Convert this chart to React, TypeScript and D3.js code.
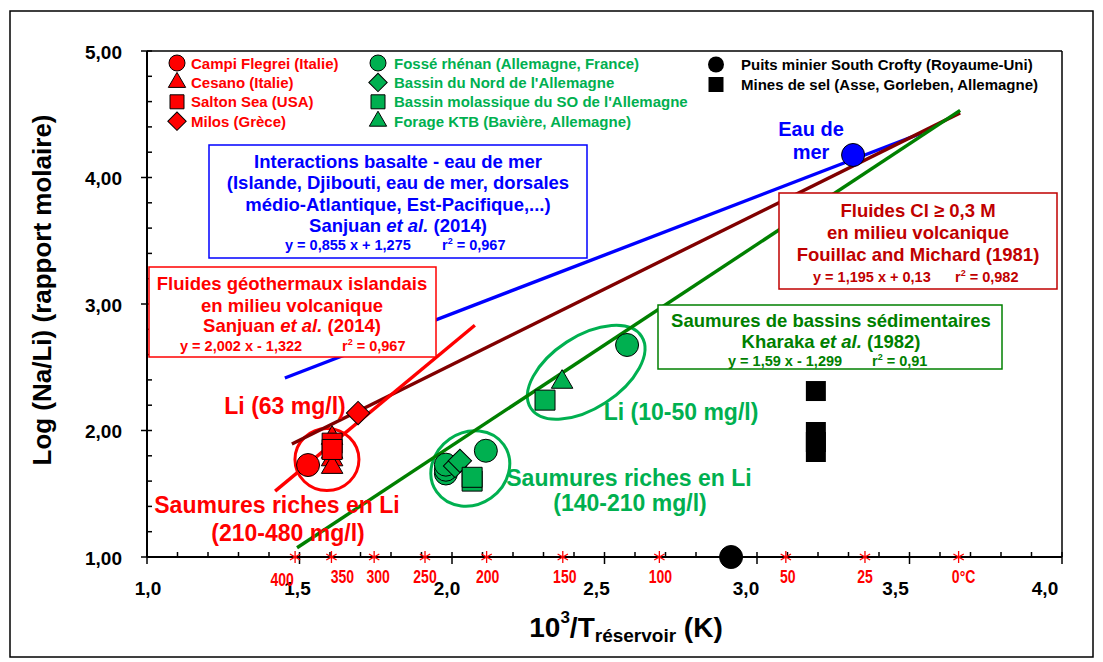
import React from "react";
import * as d3 from "d3";

// ---------- data ----------
const campiFlegrei = [[1.528, 1.727]];
const cesano = [[1.607, 1.94], [1.607, 1.83], [1.607, 1.77], [1.607, 1.71]];
const saltonSea = [[1.607, 1.90], [1.607, 1.85]];
const milos = [[1.692, 2.138]];
const fosseRhenan = [[1.98, 1.66], [1.98, 1.69], [1.98, 1.73], [2.111, 1.84], [2.574, 2.676]];
const bassinNord = [[2.01, 1.72], [2.026, 1.76]];
const bassinMolassique = [[2.066, 1.60], [2.066, 1.63], [2.305, 2.24]];
const forageKTB = [[2.361, 2.383]];
const southCrofty = [[2.915, 1.0]];
const minesSel = [[3.193, 2.312], [3.193, 1.988], [3.193, 1.909], [3.193, 1.83]];
const eauDeMer = [[3.315, 4.178]];

// regression lines [x1, y1, x2, y2]
const lineBasalte = [1.452, 2.415, 3.541, 4.352];
const lineFouillac = [1.475, 1.893, 3.666, 4.511];
const lineKharaka = [1.492, 1.073, 3.666, 4.53];
const lineIslandais = [1.42, 1.521, 2.075, 2.832];

const xTicks = [1.0, 1.5, 2.0, 2.5, 3.0, 3.5, 4.0];
const xTickLabels = ["1,0", "1,5", "2,0", "2,5", "3,0", "3,5", "4,0"];
const yTicks = [1, 2, 3, 4, 5];
const yTickLabels = ["1,00", "2,00", "3,00", "4,00", "5,00"];
const tempsC = [400, 350, 300, 250, 200, 150, 100, 50, 25, 0];
const tempLabels = ["400", "350", "300", "250", "200", "150", "100", "50", "25", "0°C"];
const tempLabelDx = [-13, 11, 4, 0, 1, 2, 1, 2, 0, 5];

const legendRed = ["Campi Flegrei (Italie)", "Cesano (Italie)", "Salton Sea (USA)", "Milos (Grèce)"];
const legendGreen = ["Fossé rhénan (Allemagne, France)", "Bassin du Nord de l'Allemagne", "Bassin molassique du SO de l'Allemagne", "Forage KTB (Bavière, Allemagne)"];
const legendBlack = ["Puits minier South Crofty (Royaume-Uni)", "Mines de sel (Asse, Gorleben, Allemagne)"];

const RED = "#ff0000";
const GREEN = "#00b050";
const DGREEN = "#008000";
const BROWN = "#800000";
const DRED = "#c00000";
const BLUE = "#0000ff";
const FONT = "'Liberation Sans', Arial, sans-serif";

const x = d3.scaleLinear().domain([1, 4]).range([147, 1062]);
const y = d3.scaleLinear().domain([1, 5]).range([557, 51]);
const xLabel = d3.scaleLinear().domain([1, 4]).range([148, 1045]);

const sym = (type: any, size: number) => d3.symbol().type(type).size(size)() as string;
const circlePath = sym(d3.symbolCircle, Math.PI * 11.5 * 11.5);
const trianglePath = sym(d3.symbolTriangle, 200);
const squarePath = sym(d3.symbolSquare, 20 * 20);
const diamondPath = sym(d3.symbolSquare, 16.5 * 16.5);
const legCircle = sym(d3.symbolCircle, Math.PI * 8 * 8);
const legTriangle = sym(d3.symbolTriangle, 130);
const legSquare = sym(d3.symbolSquare, 14 * 14);
const legDiamond = sym(d3.symbolSquare, 13 * 13);

function Markers({ data, path, fill, rotate = 0, stroke = "#000" }: any) {
  return (
    <g>
      {data.map((d: number[], i: number) => (
        <path key={i} d={path} fill={fill} stroke={stroke} strokeWidth={1}
          transform={`translate(${x(d[0])},${y(d[1])}) rotate(${rotate})`} />
      ))}
    </g>
  );
}

function Line({ l, color }: any) {
  return <line x1={x(l[0])} y1={y(l[1])} x2={x(l[2])} y2={y(l[3])} stroke={color} strokeWidth={3.4} />;
}

function BoxText({ lines, cx, color, size }: any) {
  return (
    <g fill={color} fontFamily={FONT} fontWeight="bold" textAnchor="middle" dominantBaseline="central">
      {lines.map((l: any, i: number) => (
        <text key={i} x={cx} y={l.y} fontSize={size}>
          {l.parts ? l.parts.map((p: any, j: number) => (
            <tspan key={j} fontStyle={p.i ? "italic" : "normal"}>{p.t}</tspan>
          )) : l.t}
        </text>
      ))}
    </g>
  );
}

function Eq({ eq, r2, x1, x2, yy, color }: any) {
  return (
    <g fill={color} fontFamily={FONT} fontWeight="bold" fontSize={14.5} dominantBaseline="central">
      <text x={x1} y={yy}>{eq}</text>
      <text x={x2} y={yy}>r<tspan dy={-4} fontSize={9}>2</tspan><tspan dy={4}> = {r2}</tspan></text>
    </g>
  );
}

export default function App() {
  const minorX = d3.range(10, 41).map((v) => v / 10);
  const minorY = d3.range(5, 26).map((v) => v / 5);
  return (
    <svg width={1103} height={662} style={{ position: "absolute", left: 0, top: 0, background: "#fff" }}>
      <rect x={10} y={11} width={1083} height={646} fill="#fff" stroke="#000" strokeWidth={1.5} />

      {/* plot frame */}
      <line x1={147} y1={51} x2={1062} y2={51} stroke="#000" strokeWidth={1.5} />
      <line x1={1062} y1={51} x2={1062} y2={557} stroke="#000" strokeWidth={1.5} />

      {/* y axis */}
      <line x1={x(1)} y1={y(1)} x2={x(1)} y2={y(5)} stroke="#000" strokeWidth={2} />
      {minorY.map((v, i) => (
        <line key={i} x1={x(1)} x2={x(1) + 5} y1={y(v)} y2={y(v)} stroke="#000" strokeWidth={1.5} />
      ))}
      {yTicks.map((v, i) => (
        <g key={i}>
          <line x1={x(1) - 6} x2={x(1)} y1={y(v)} y2={y(v)} stroke="#000" strokeWidth={1.5} />
          <text x={122} y={y(v) + 1} textAnchor="end" dominantBaseline="central" fontFamily={FONT}
            fontWeight="bold" fontSize={19}>{yTickLabels[i]}</text>
        </g>
      ))}

      {/* x axis */}
      <line x1={x(1)} y1={y(1)} x2={x(4)} y2={y(1)} stroke="#000" strokeWidth={2} />
      {minorX.map((v, i) => (
        <line key={i} x1={x(v)} x2={x(v)} y1={y(1) - 5} y2={y(1)} stroke="#000" strokeWidth={1.5} />
      ))}
      {xTicks.map((v, i) => (
        <g key={i}>
          <line x1={x(v)} x2={x(v)} y1={y(1)} y2={y(1) + 7} stroke="#000" strokeWidth={1.5} />
          <text x={xLabel(v)} y={588} textAnchor="middle" dominantBaseline="central" fontFamily={FONT}
            fontWeight="bold" fontSize={19}>{xTickLabels[i]}</text>
        </g>
      ))}

      {/* temperature asterisks */}
      {tempsC.map((t, i) => {
        const xv = 1000 / (t + 273.15);
        const lx = x(xv) + tempLabelDx[i];
        const ly = t === 400 ? 579 : 576;
        return (
          <g key={i}>
            <path d={sym(d3.symbolAsterisk, 100)} transform={`translate(${x(xv)},${y(1)})`}
              stroke={RED} strokeWidth={1.3} fill="none" />
            <text transform={`translate(${lx},${ly}) scale(0.78,1)`} textAnchor="middle" dominantBaseline="central"
              fontFamily={FONT} fontWeight="bold" fontSize={18} fill={RED}>{tempLabels[i]}</text>
          </g>
        );
      })}

      {/* axis titles */}
      <text x={626} y={627} textAnchor="middle" dominantBaseline="central" fontFamily={FONT} fontWeight="bold" fontSize={28}>
        10<tspan dy={-10} fontSize={17}>3</tspan><tspan dy={10}>/T</tspan><tspan dy={8} fontSize={19}>réservoir</tspan><tspan dy={-8}> (K)</tspan>
      </text>
      <text transform="translate(42,290) rotate(-90)" textAnchor="middle" dominantBaseline="central" fontFamily={FONT}
        fontWeight="bold" fontSize={26}>Log (Na/Li) (rapport molaire)</text>

      {/* ellipses */}
      <ellipse cx={x(1.59)} cy={y(1.77)} rx={32} ry={31} fill="none" stroke={RED} strokeWidth={3} />
      <ellipse cx={x(2.06)} cy={y(1.70)} rx={41} ry={36} fill="none" stroke={GREEN} strokeWidth={3}
        transform={`rotate(-35 ${x(2.06)} ${y(1.70)})`} />
      <ellipse cx={x(2.44)} cy={y(2.46)} rx={66} ry={36} fill="none" stroke={GREEN} strokeWidth={3}
        transform={`rotate(-33 ${x(2.44)} ${y(2.46)})`} />

      {/* regression lines */}
      <Line l={lineBasalte} color={BLUE} />
      <Line l={lineFouillac} color={BROWN} />
      <Line l={lineKharaka} color={DGREEN} />
      <Line l={lineIslandais} color={RED} />

      {/* markers */}
      <Markers data={cesano} path={trianglePath} fill={RED} />
      <Markers data={saltonSea} path={squarePath} fill={RED} />
      <Markers data={campiFlegrei} path={circlePath} fill={RED} />
      <Markers data={milos} path={diamondPath} fill={RED} rotate={45} />
      <Markers data={fosseRhenan} path={circlePath} fill={GREEN} />
      <Markers data={bassinNord} path={diamondPath} fill={GREEN} rotate={45} />
      <Markers data={bassinMolassique} path={squarePath} fill={GREEN} />
      <Markers data={forageKTB} path={trianglePath} fill={GREEN} />
      <Markers data={minesSel} path={squarePath} fill="#000" stroke="none" />
      <Markers data={southCrofty} path={circlePath} fill="#000" />
      <Markers data={eauDeMer} path={circlePath} fill={BLUE} />

      {/* annotation labels */}
      <g fontFamily={FONT} fontWeight="bold" textAnchor="middle" dominantBaseline="central">
        <text x={811} y={129} fill={BLUE} fontSize={20}>Eau de</text>
        <text x={811} y={152} fill={BLUE} fontSize={20}>mer</text>
        <text x={285} y={406} fill={RED} fontSize={23}>Li (63 mg/l)</text>
        <text x={277} y={505} fill={RED} fontSize={23}>Saumures riches en Li</text>
        <text x={288} y={533} fill={RED} fontSize={23}>(210-480 mg/l)</text>
        <text x={681} y={412} fill={GREEN} fontSize={23}>Li (10-50 mg/l)</text>
        <text x={629} y={478} fill={GREEN} fontSize={23}>Saumures riches en Li</text>
        <text x={630} y={503} fill={GREEN} fontSize={23}>(140-210 mg/l)</text>
      </g>

      {/* blue box */}
      <rect x={209} y={145} width={378} height={113} fill="#fff" stroke={BLUE} strokeWidth={1.5} />
      <BoxText cx={398} color={BLUE} size={18.5} lines={[
        { y: 161, t: "Interactions basalte - eau de mer" },
        { y: 182, t: "(Islande, Djibouti, eau de mer, dorsales" },
        { y: 204, t: "médio-Atlantique, Est-Pacifique,...)" },
        { y: 225, parts: [{ t: "Sanjuan " }, { t: "et al.", i: true }, { t: " (2014)" }] },
      ]} />
      <Eq eq="y = 0,855 x + 1,275" r2="0,967" x1={285} x2={442} yy={245} color={BLUE} />

      {/* red box */}
      <rect x={149} y={267} width={287} height={90} fill="#fff" stroke={RED} strokeWidth={1.5} />
      <BoxText cx={292} color={RED} size={18.5} lines={[
        { y: 283, t: "Fluides géothermaux islandais" },
        { y: 305, t: "en  milieu volcanique" },
        { y: 325, parts: [{ t: "Sanjuan " }, { t: "et al.", i: true }, { t: " (2014)" }] },
      ]} />
      <Eq eq="y = 2,002 x - 1,322" r2="0,967" x1={180} x2={342} yy={346} color={RED} />

      {/* brown box */}
      <rect x={779} y={193} width={278} height={96} fill="#fff" stroke={DRED} strokeWidth={1.5} />
      <BoxText cx={918} color={DRED} size={18.5} lines={[
        { y: 210, t: "Fluides Cl ≥ 0,3 M" },
        { y: 232, t: "en milieu volcanique" },
        { y: 254, t: "Fouillac and Michard (1981)" },
      ]} />
      <Eq eq="y = 1,195 x + 0,13" r2="0,982" x1={813} x2={955} yy={277} color={DRED} />

      {/* green box */}
      <rect x={658} y={305} width={344} height={64} fill="#fff" stroke={DGREEN} strokeWidth={1.5} />
      <BoxText cx={831} color={DGREEN} size={18.5} lines={[
        { y: 320, t: "Saumures de bassins sédimentaires" },
        { y: 341, parts: [{ t: "Kharaka " }, { t: "et al.", i: true }, { t: " (1982)" }] },
      ]} />
      <Eq eq="y = 1,59 x - 1,299" r2="0,91" x1={728} x2={872} yy={361} color={DGREEN} />

      {/* legend */}
      <g fontFamily={FONT} fontWeight="bold" fontSize={15} dominantBaseline="central">
        {legendRed.map((t, i) => {
          const paths = [legCircle, legTriangle, legSquare, legDiamond];
          return (
            <g key={i}>
              <path d={paths[i]} fill={RED} stroke="#000" strokeWidth={1}
                transform={`translate(177,${63 + i * 19.4}) rotate(${i === 3 ? 45 : 0})`} />
              <text x={191} y={63 + i * 19.4} fill={RED}>{t}</text>
            </g>
          );
        })}
        {legendGreen.map((t, i) => {
          const paths = [legCircle, legDiamond, legSquare, legTriangle];
          return (
            <g key={i}>
              <path d={paths[i]} fill={GREEN} stroke="#000" strokeWidth={1}
                transform={`translate(378,${63 + i * 19.4}) rotate(${i === 1 ? 45 : 0})`} />
              <text x={394} y={63 + i * 19.4} fill={GREEN}>{t}</text>
            </g>
          );
        })}
        {legendBlack.map((t, i) => (
          <g key={i}>
            <path d={i === 0 ? legCircle : sym(d3.symbolSquare, 15 * 15)} fill="#000"
              transform={`translate(716,${64.5 + i * 20})`} />
            <text x={741} y={64.5 + i * 20} fill="#000">{t}</text>
          </g>
        ))}
      </g>
    </svg>
  );
}
